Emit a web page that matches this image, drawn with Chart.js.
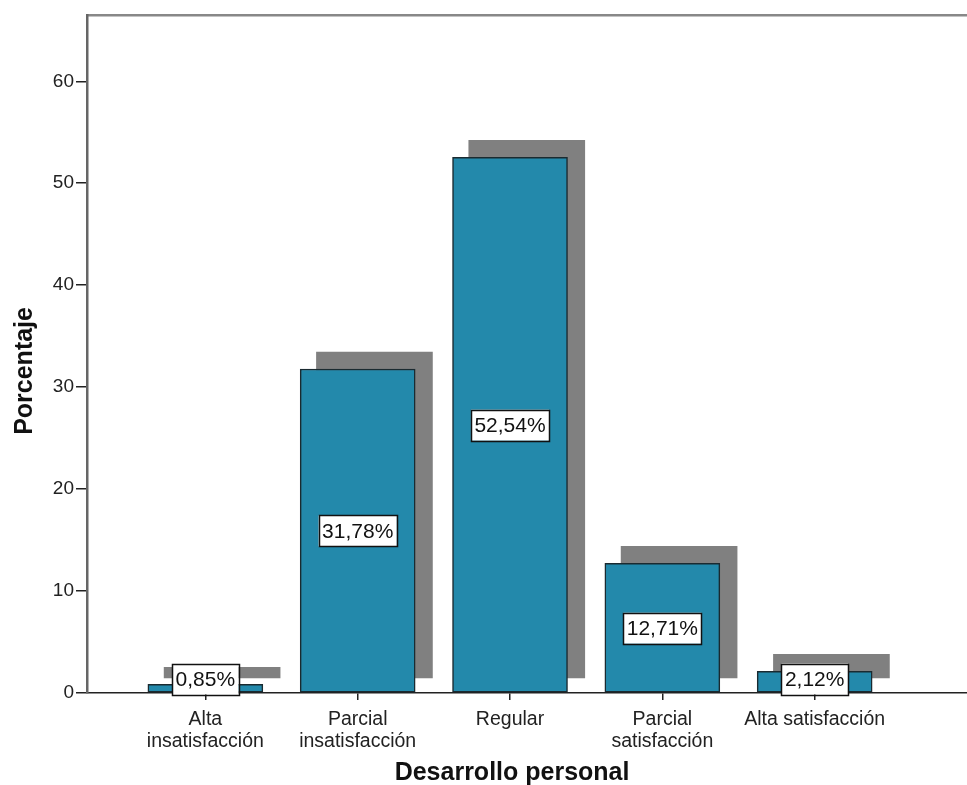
<!DOCTYPE html>
<html>
<head>
<meta charset="utf-8">
<script src="https://cdn.jsdelivr.net/npm/chart.js@4.4.1/dist/chart.umd.min.js"></script>
<style>
  html, body { margin: 0; padding: 0; background: #fff; }
  #wrap { width: 967px; height: 785px; }
</style>
</head>
<body>
<div id="wrap"><canvas id="grafico"></canvas></div>
<script>
// Datos del gráfico
const categorias = [
  ["Alta", "insatisfacción"],
  ["Parcial", "insatisfacción"],
  ["Regular"],
  ["Parcial", "satisfacción"],
  ["Alta satisfacción"],
];
const porcentajes = [0.85, 31.78, 52.54, 12.71, 2.12];
const etiquetas = ["0,85%", "31,78%", "52,54%", "12,71%", "2,12%"];
const ticksY = [0, 10, 20, 30, 40, 50, 60];

const tituloX = "Desarrollo personal";
const tituloY = "Porcentaje";

// sombra desplazada (efecto SPSS)
const sombraDx = 0.11;
const sombraBase = 1.47;
const sombraAlto = 1.67;

const fuente = "'Liberation Sans', Arial, sans-serif";

const datosBarras = porcentajes.map((v, i) => ({ x: i, y: v }));
const datosSombra = porcentajes.map((v, i) => ({ x: i + sombraDx, y: [sombraBase, v + sombraAlto] }));

// Etiquetas con caja blanca + titulos de ejes
const etiquetasPlugin = {
  id: "etiquetas",
  afterDatasetsDraw(chart) {
    const ctx = chart.ctx;
    const meta = chart.getDatasetMeta(1);
    const base = chart.scales.y.getPixelForValue(0);
    ctx.save();
    ctx.font = "21px " + fuente;
    ctx.textAlign = "center";
    ctx.textBaseline = "middle";
    meta.data.forEach((bar, i) => {
      const txt = etiquetas[i];
      const w = ctx.measureText(txt).width + 7;
      const h = 31;
      let cy = (bar.y + base) / 2;
      cy = Math.min(cy, base - 14);
      ctx.fillStyle = "#fff";
      ctx.fillRect(bar.x - w / 2, cy - h / 2, w, h);
      ctx.strokeStyle = "#111";
      ctx.lineWidth = 1.5;
      ctx.strokeRect(Math.round(bar.x - w / 2) + 0.5, Math.round(cy - h / 2) + 0.5, Math.round(w), h);
      ctx.fillStyle = "#111";
      ctx.fillText(txt, bar.x, cy + 1);
    });
    ctx.restore();
  },
  afterDraw(chart) {
    const ctx = chart.ctx;
    const area = chart.chartArea;
    ctx.save();
    ctx.fillStyle = "#111";
    ctx.font = "bold 25px " + fuente;
    ctx.textAlign = "center";
    ctx.textBaseline = "middle";
    ctx.fillText(tituloX, area.left + (area.right - area.left) * 0.483, 773);
    ctx.translate(25, area.top + (area.bottom - area.top) * 0.525);
    ctx.rotate(-Math.PI / 2);
    ctx.fillText(tituloY, 0, 0);
    ctx.restore();
  },
};

const grafico = new Chart(document.getElementById("grafico"), {
  type: "bar",
  data: {
    datasets: [
      {
        label: "sombra",
        data: datosSombra,
        backgroundColor: "#808080",
        borderWidth: 0,
        barThickness: 116,
        grouped: false,
        order: 1,
      },
      {
        label: "Porcentaje",
        data: datosBarras,
        backgroundColor: "#2389ab",
        borderColor: "#1a2a30",
        borderWidth: 1.5,
        borderSkipped: false,
        barThickness: 115,
        grouped: false,
        order: 0,
      },
    ],
  },
  options: {
    responsive: true,
    maintainAspectRatio: false,
    animation: false,
    layout: { padding: { top: 15, right: 0, left: 0, bottom: 0 } },
    plugins: {
      legend: { display: false },
      tooltip: { enabled: false },
    },
    scales: {
      x: {
        type: "linear",
        min: -0.777,
        max: 5,
        offset: false,
        afterBuildTicks: (axis) => {
          axis.ticks = categorias.map((c, i) => ({ value: i }));
        },
        afterFit: (axis) => { axis.height = 92; },
        ticks: {
          autoSkip: false,
          maxRotation: 0,
          padding: 9,
          color: "#222",
          font: { family: fuente, size: 19.5, lineHeight: "22px" },
          callback: (v) => categorias[v] || "",
        },
        grid: { display: true, offset: false, drawOnChartArea: false, tickLength: 7, color: "#222", lineWidth: 1.5 },
        border: { display: true, color: "#222", width: 1.5 },
      },
      xTop: {
        type: "linear",
        position: "top",
        min: -0.777,
        max: 5,
        afterFit: (axis) => { axis.height = 0; },
        ticks: { display: false },
        grid: { display: false, drawTicks: false },
        border: { display: true, color: "#888", width: 2.5 },
      },
      y: {
        min: 0,
        max: 66.5,
        afterBuildTicks: (axis) => {
          axis.ticks = ticksY.map((t) => ({ value: t }));
        },
        afterFit: (axis) => { axis.width = 87; },
        ticks: {
          padding: 2,
          color: "#222",
          font: { family: fuente, size: 19 },
        },
        grid: { display: true, drawOnChartArea: false, tickLength: 11, color: "#222", lineWidth: 1.5 },
        border: { display: true, color: "#666", width: 2.5 },
      },
    },
  },
  plugins: [etiquetasPlugin],
});
</script>
</body>
</html>
